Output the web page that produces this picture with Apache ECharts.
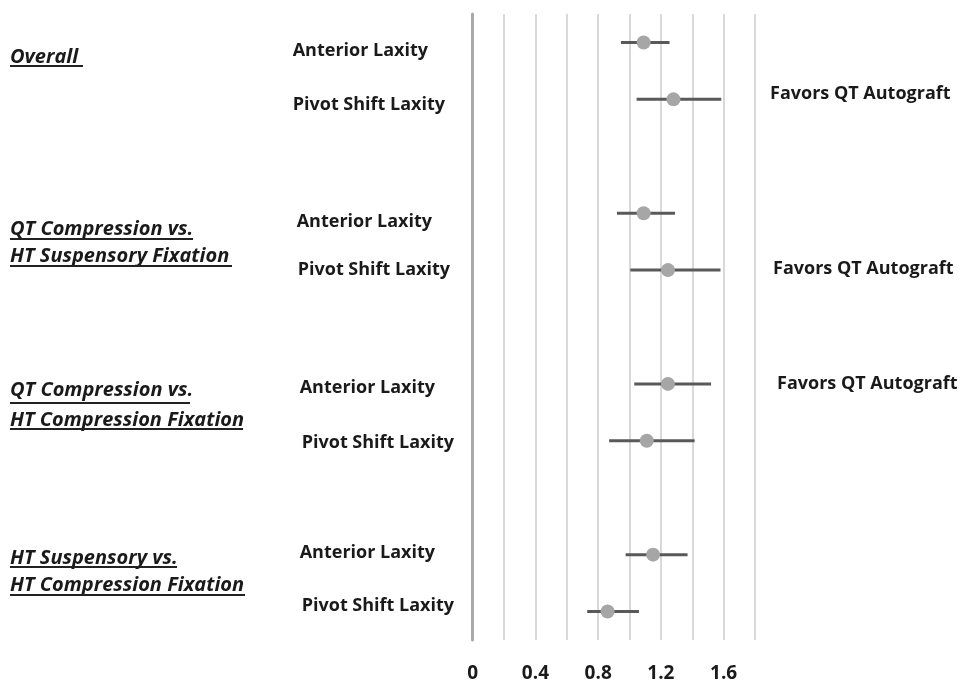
<!DOCTYPE html>
<html>
<head>
<meta charset="utf-8">
<script src="https://cdn.jsdelivr.net/npm/echarts@6/dist/echarts.min.js"></script>
<style>html,body{margin:0;padding:0;background:#fff}#c{width:963px;height:683px}</style>
</head>
<body>
<div id="c"></div>
<script>
// ---- data ----
const rowLabels = ['Anterior Laxity','Pivot Shift Laxity','Anterior Laxity','Pivot Shift Laxity','Anterior Laxity','Pivot Shift Laxity','Anterior Laxity','Pivot Shift Laxity'];
const groupLabels = [['Overall'],['QT Compression vs.','HT Suspensory Fixation'],['QT Compression vs.','HT Compression Fixation'],['HT Suspensory vs.','HT Compression Fixation']];
const estimate = [1.09, 1.28, 1.09, 1.245, 1.245, 1.11, 1.15, 0.86];
const lower    = [0.945, 1.045, 0.92, 1.005, 1.03, 0.87, 0.975, 0.73];
const upper    = [1.255, 1.585, 1.29, 1.58, 1.52, 1.415, 1.37, 1.06];
const favorsText = 'Favors QT Autograft';
const xTicks = [0, 0.4, 0.8, 1.2, 1.6];

// ---- layout helpers ----
const FONT = 'Open Sans';
const slotOf = i => i + Math.floor(i / 2);      // blank slot between groups
const nSlots = slotOf(rowLabels.length - 1) + 1;
const slotLabels = [];
for (let s = 0; s < nSlots; s++) slotLabels.push('');
rowLabels.forEach((l, i) => { slotLabels[slotOf(i)] = 'r' + i + '|' + l; });
// small per-row label nudges (dx, dy) as in the original drawing
const nudge = [[0,8],[0,5.5],[4,9],[5,0],[7,3.5],[9,2],[7,-1.5],[9,-5.5]];
const rich = {};
nudge.forEach(([dx, dy], i) => {
  rich['r' + i] = {
    fontFamily: FONT, fontWeight: 'bold', fontSize: 18, color: '#1a1a1a',
    padding: [dy > 0 ? 2 * dy : 0, 0, dy < 0 ? -2 * dy : 0, dx]
  };
});

const chart = echarts.init(document.getElementById('c'), null, {renderer: 'canvas'});

const graphics = [];
const textStyleBase = {fontFamily: FONT, fontWeight: 'bold', fill: '#1a1a1a', verticalAlign: 'middle', align: 'left'};
// group labels (italic, bold, underlined)
const groupLines = [
  [{y: 57, u: 66, w: 73}],
  [{y: 229, u: 239, w: 183}, {y: 256, u: 266, w: 222}],
  [{y: 390, u: 403, w: 180}, {y: 420, u: 429, w: 233}],
  [{y: 558, u: 567, w: 167}, {y: 585, u: 595, w: 235}]
];
groupLabels.forEach((lines, g) => {
  lines.forEach((t, k) => {
    const p = groupLines[g][k];
    graphics.push({type: 'text', x: 10, y: p.y,
      style: Object.assign({}, textStyleBase, {text: t, fontSize: 20, fontStyle: 'italic'})});
    graphics.push({type: 'line', shape: {x1: 10, y1: p.u, x2: 10 + p.w, y2: p.u},
      style: {stroke: '#222', lineWidth: 2}});
  });
});
// "Favors" annotations
[[770, 94], [773, 268.5], [777, 384]].forEach(([x, y]) => {
  graphics.push({type: 'text', x: x, y: y,
    style: Object.assign({}, textStyleBase, {text: favorsText, fontSize: 18})});
});

chart.setOption({
  animation: false,
  backgroundColor: '#fff',
  grid: {left: 472.7, right: 208, top: 14, bottom: 43},
  xAxis: {
    type: 'value', min: 0, max: 1.8, interval: 0.2,
    axisLine: {show: false}, axisTick: {show: false},
    splitLine: {show: true, lineStyle: {color: '#d9d9d9', width: 2}},
    axisLabel: {
      margin: 24, fontSize: 19, fontWeight: 'bold', fontFamily: FONT, color: '#1a1a1a',
      formatter: v => { const t = xTicks.find(t => Math.abs(t - v) < 1e-6); return t === undefined ? '' : String(t); }
    }
  },
  yAxis: {
    type: 'category', inverse: true, data: slotLabels,
    axisLine: {show: true, lineStyle: {color: '#a9a9a9', width: 3}},
    axisTick: {show: false}, splitLine: {show: false},
    axisLabel: {
      align: 'left', margin: 180, interval: 0,
      formatter: v => v ? '{' + v.split('|')[0] + '|' + v.split('|')[1] + '}' : '',
      rich: rich
    }
  },
  series: [
    {
      type: 'custom',
      data: rowLabels.map((_, i) => [lower[i], upper[i], slotOf(i)]),
      encode: {x: [0, 1], y: 2},
      renderItem: (params, api) => {
        const a = api.coord([api.value(0), api.value(2)]);
        const b = api.coord([api.value(1), api.value(2)]);
        return {type: 'line', shape: {x1: a[0], y1: a[1], x2: b[0], y2: b[1]},
          style: {stroke: '#595959', lineWidth: 3}};
      },
      z: 2
    },
    {
      type: 'scatter',
      data: rowLabels.map((_, i) => [estimate[i], slotOf(i)]),
      symbol: 'circle', symbolSize: 14,
      itemStyle: {color: '#a6a6a6', opacity: 1},
      z: 3
    }
  ],
  graphic: graphics
});
</script>
</body>
</html>
